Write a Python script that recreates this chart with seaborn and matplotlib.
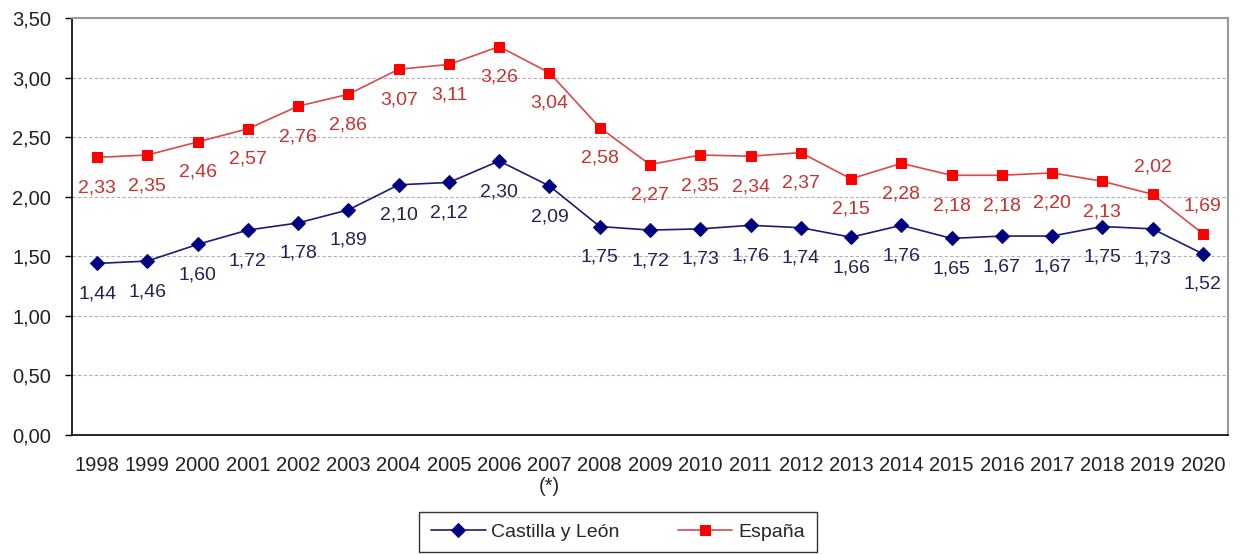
import numpy as np
import pandas as pd
import matplotlib
matplotlib.use("Agg")
import matplotlib.pyplot as plt
import seaborn as sns

# datos
years = ["1998", "1999", "2000", "2001", "2002", "2003", "2004", "2005", "2006",
         "2007", "2008", "2009", "2010", "2011", "2012", "2013", "2014", "2015",
         "2016", "2017", "2018", "2019", "2020"]
year_labels = [y if y != "2007" else "2007\n(*)" for y in years]
castilla = [1.44, 1.46, 1.60, 1.72, 1.78, 1.89, 2.10, 2.12, 2.30, 2.09, 1.75, 1.72,
            1.73, 1.76, 1.74, 1.66, 1.76, 1.65, 1.67, 1.67, 1.75, 1.73, 1.52]
espana = [2.33, 2.35, 2.46, 2.57, 2.76, 2.86, 3.07, 3.11, 3.26, 3.04, 2.58, 2.27,
          2.35, 2.34, 2.37, 2.15, 2.28, 2.18, 2.18, 2.20, 2.13, 2.02, 1.69]
# etiquetas de España que van encima del punto
espana_above = ["2019", "2020"]
series_names = ["Castilla y León", "España"]
y_ticks = [0, 0.5, 1.0, 1.5, 2.0, 2.5, 3.0, 3.5]

sns.set_style("white")
plt.rcParams["font.family"] = ["Liberation Sans", "DejaVu Sans"]

pos = np.arange(len(years))
df = pd.DataFrame({"pos": np.concatenate([pos, pos]),
                   "valor": castilla + espana,
                   "serie": [series_names[0]] * len(years) + [series_names[1]] * len(years)})

fig = plt.figure(figsize=(12.4, 5.54), dpi=100)
ax = fig.add_axes([72 / 1240, 1 - 435 / 554, (1228 - 72) / 1240, (435 - 18) / 554])

line_colors = {"Castilla y León": "#1c1c78", "España": "#e04848"}
marker_colors = {"Castilla y León": "#000080", "España": "#ff0000"}
label_colors = {"Castilla y León": "#22225a", "España": "#cc3030"}
markers = {"Castilla y León": "D", "España": "s"}
msize = {"Castilla y León": 7, "España": 7.5}

for name, vals in zip(series_names, [castilla, espana]):
    sub = df[df["serie"] == name]
    sns.lineplot(data=sub, x="pos", y="valor", ax=ax, color=line_colors[name],
                 lw=1.2, marker=markers[name], markersize=msize[name],
                 markerfacecolor=marker_colors[name], markeredgecolor=marker_colors[name],
                 label=name)
    for p, yr, v in zip(pos, years, vals):
        dy = 20 if (name == "España" and yr in espana_above) else -22
        ax.annotate(f"{v:.2f}".replace(".", ","), (p, v), xytext=(0, dy),
                    textcoords="offset points", ha="center", va="center",
                    fontsize=14, color=label_colors[name])

ax.set_xlim(-0.5, len(years) - 0.5)
ax.set_ylim(0, 3.5)
ax.set_yticks(y_ticks)
ax.set_yticklabels([f"{t:.2f}".replace(".", ",") for t in y_ticks], fontsize=14.5, color="#222222")
ax.set_xticks(pos)
ax.set_xticklabels(year_labels, fontsize=14.5, color="#222222", linespacing=1.15)
ax.set_xticks(np.arange(-0.5, len(years)), minor=True)
ax.tick_params(axis="x", which="major", length=0, pad=15)
ax.tick_params(axis="x", which="minor", length=5, width=1, color="black", direction="out")
ax.tick_params(axis="y", length=5, width=1, color="black", direction="out", left=True, pad=10)
ax.set_xlabel("")
ax.set_ylabel("")

for y in y_ticks[1:-1]:
    ax.axhline(y, color="#b0b0b0", lw=0.8, ls=(0, (3, 2)), zorder=0)

ax.spines["left"].set_color("black")
ax.spines["bottom"].set_color("black")
ax.spines["left"].set_linewidth(1.2)
ax.spines["bottom"].set_linewidth(1.2)
ax.spines["top"].set_color("#999999")
ax.spines["right"].set_color("#999999")
ax.spines["top"].set_linewidth(1.5)
ax.spines["right"].set_linewidth(1.5)

leg = ax.legend(loc="center", bbox_to_anchor=(618 / 1240, 1 - 532 / 554),
                bbox_transform=fig.transFigure, ncol=2, frameon=True, fancybox=False,
                fontsize=14, handlelength=2.8, columnspacing=3.0, borderpad=0.6,
                handletextpad=0.3)
leg.get_frame().set_edgecolor("black")
leg.get_frame().set_linewidth(1.0)

fig.savefig("out.png", dpi=100)
